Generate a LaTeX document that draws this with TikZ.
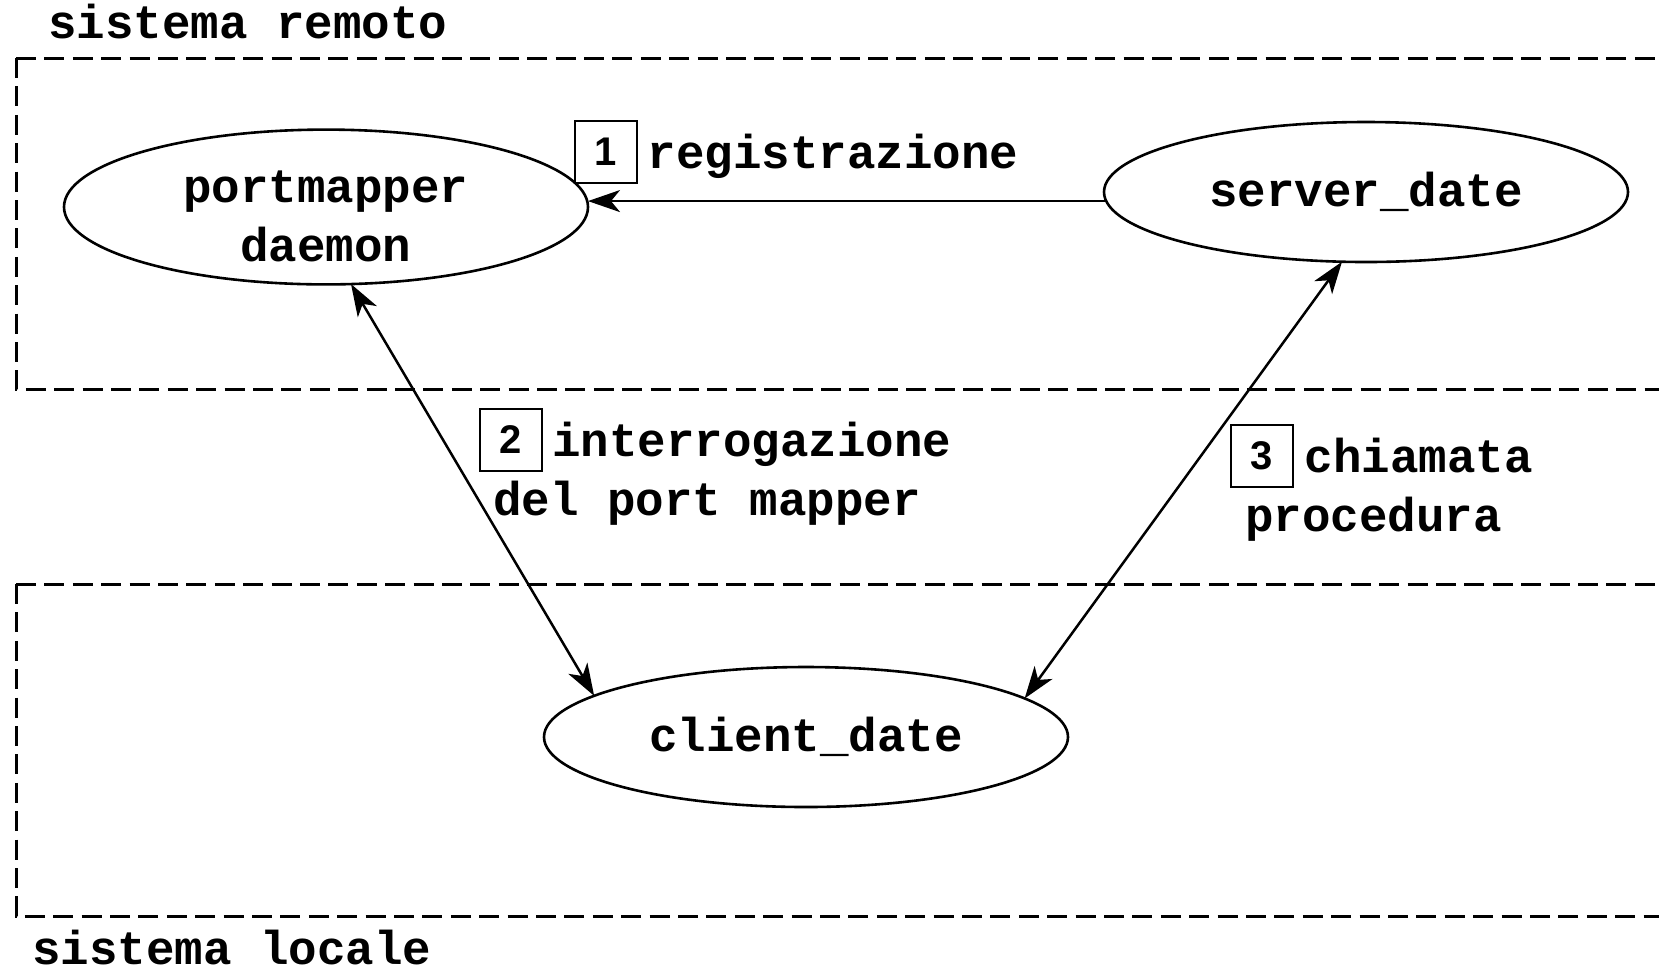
\documentclass[tikz,border=0pt]{standalone}
\usepackage{fontspec}
\setmainfont{Liberation Sans}
\setmonofont{Liberation Mono}
\newfontfamily\digitfont{Liberation Sans}
\usetikzlibrary{arrows.meta,shapes.geometric}

\tikzset{
  typewriter/.style={font=\ttfamily\bfseries\fontsize{23.75}{29.5}\selectfont},
  proc/.style={draw, ellipse, typewriter, line width=1.3pt,
    minimum width=262pt, minimum height=70pt, inner sep=0pt, outer sep=0pt,
    align=center},
  lbl/.style={typewriter, inner sep=0pt, anchor=mid west},
  numbox/.style={draw, line width=1pt, minimum size=31pt, inner sep=0pt,
    font=\digitfont\bfseries\fontsize{20}{20}\selectfont},
  zone/.style={line width=1.5pt, dash pattern=on 10pt off 4.2pt},
  tip/.tip={Stealth[length=16pt,width=11pt,inset=4.5pt]},
  oneway/.style={line width=1.25pt, -tip},
  twoway/.style={line width=1.25pt, tip-tip},
}

\begin{document}
\begin{tikzpicture}[x=0.5pt,y=-0.5pt]
  \useasboundingbox (0,0) rectangle (1659,971);
  \clip (0,0) rectangle (1659,971);

  % remote and local system zones
  \draw[zone] (16,58) -- (1700,58);
  \draw[zone] (16,58) -- (16,389) -- (1700,389);
  \draw[zone] (16,584) -- (1700,584);
  \draw[zone] (16,584) -- (16,916) -- (1700,916);
  \node[lbl] (remoto) at (48,33.5) {sistema remoto};
  \node[lbl] (locale) at (32,959) {sistema locale};

  % processes
  \node[proc] (pm) at (326,207) {\rule{0pt}{25pt}portmapper\\daemon};
  \node[proc] (sd) at (1366,192) {server\_date};
  \node[proc] (cl) at (806,737) {client\_date};

  % interactions
  \draw[oneway] (sd.182) -- (sd.182 -| pm.east);
  \draw[twoway] (pm.-72.3) -- (cl.169.1);
  \draw[twoway] (sd.251.6) -- (cl.10);

  % step labels
  \node[numbox] (n1) at (606,151.5) {1};
  \node[lbl] (t1) at (647.5,163.5) {registrazione};
  \node[numbox] (n2) at (510.5,439.5) {2};
  \node[lbl] (t2a) at (552,451.5) {interrogazione};
  \node[lbl] (t2b) at (493,510) {del port mapper};
  \node[numbox] (n3) at (1262,456) {3};
  \node[lbl] (t3a) at (1304.5,467) {chiamata};
  \node[lbl] (t3b) at (1245,526.5) {procedura};
\end{tikzpicture}
\end{document}
